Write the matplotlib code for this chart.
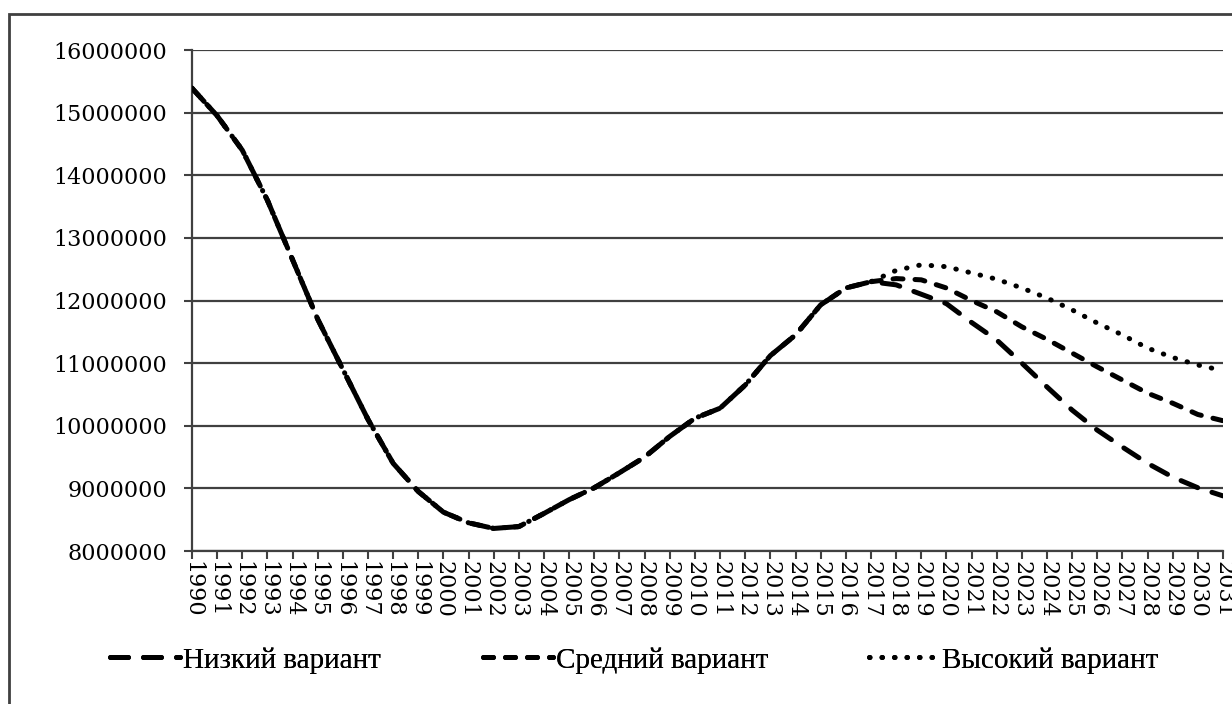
import matplotlib.pyplot as plt
from matplotlib.patches import Rectangle

years = list(range(1990, 2032))

# common history 1990-2017
history = [15390000, 14950000, 14400000, 13600000, 12650000, 11700000, 10900000,
           10100000, 9400000, 8950000, 8620000, 8450000, 8360000, 8390000,
           8600000, 8820000, 9010000, 9250000, 9500000, 9830000, 10120000,
           10280000, 10650000, 11120000, 11450000, 11930000, 12200000, 12300000]

low_forecast = [12250000, 12100000, 11950000, 11650000, 11370000, 11000000, 10620000,
                10250000, 9930000, 9660000, 9400000, 9180000, 9010000, 8880000]
mid_forecast = [12350000, 12330000, 12200000, 12000000, 11820000, 11580000, 11380000,
                11160000, 10940000, 10730000, 10520000, 10360000, 10180000, 10080000]
high_forecast = [12480000, 12570000, 12540000, 12440000, 12340000, 12200000, 12040000,
                 11850000, 11640000, 11450000, 11240000, 11090000, 10970000, 10880000]

low = history + low_forecast
mid = history + mid_forecast
high = history + high_forecast

plt.rcParams['font.family'] = ['DejaVu Serif']

fig = plt.figure(figsize=(12.32, 7.04), dpi=100)
ax = fig.add_axes([192 / 1232, 1 - 551 / 704, (1223 - 192) / 1232, (551 - 50) / 704])

lw = 3.6
l1, = ax.plot(years, low, color='black', lw=lw, dashes=(3.6, 3.0), dash_capstyle='round',
              label='Низкий вариант', zorder=3)
l2, = ax.plot(years, mid, color='black', lw=lw, dashes=(2.0, 2.4), dash_capstyle='round',
              label='Средний вариант', zorder=3)
l3, = ax.plot(years, high, color='black', lw=lw, dashes=(0.1, 2.4), dash_capstyle='round',
              label='Высокий вариант', zorder=3)

ax.set_xlim(1990, 2031)
ax.set_ylim(8000000, 16000000)
ax.set_yticks(range(8000000, 16000001, 1000000))
ax.set_yticklabels([str(v) for v in range(8000000, 16000001, 1000000)], fontsize=16)
ax.set_xticks(years)
ax.set_xticklabels([str(y) for y in years], rotation=-90, fontsize=16)
ax.tick_params(axis='x', length=6, width=1.5, color='#404040', pad=1)
ax.tick_params(axis='y', length=6, width=1.5, color='#404040', pad=12)

ax.grid(axis='y', color='#404040', lw=1.6)
for side in ['top', 'right']:
    ax.spines[side].set_visible(False)
for side in ['left', 'bottom']:
    ax.spines[side].set_color('#404040')
    ax.spines[side].set_linewidth(1.6)

# one legend per entry so each can sit where the reference has it
legend_x = [110, 483, 869]
for line, x in zip([l1, l2, l3], legend_x):
    leg = fig.legend(handles=[line], loc='center left', bbox_to_anchor=(x / 1232, 0.062),
                     frameon=False, prop={'family': 'Liberation Serif', 'size': 21},
                     handlelength=2.4, handletextpad=0.1, borderpad=0, borderaxespad=0)
    fig.add_artist(leg)

fig.patches.append(Rectangle((9 / 1232, -0.1), 1.2, 1.1 - 14 / 704,
                             transform=fig.transFigure, fill=False,
                             edgecolor='#404040', lw=2))

fig.savefig('out.png', dpi=100)
